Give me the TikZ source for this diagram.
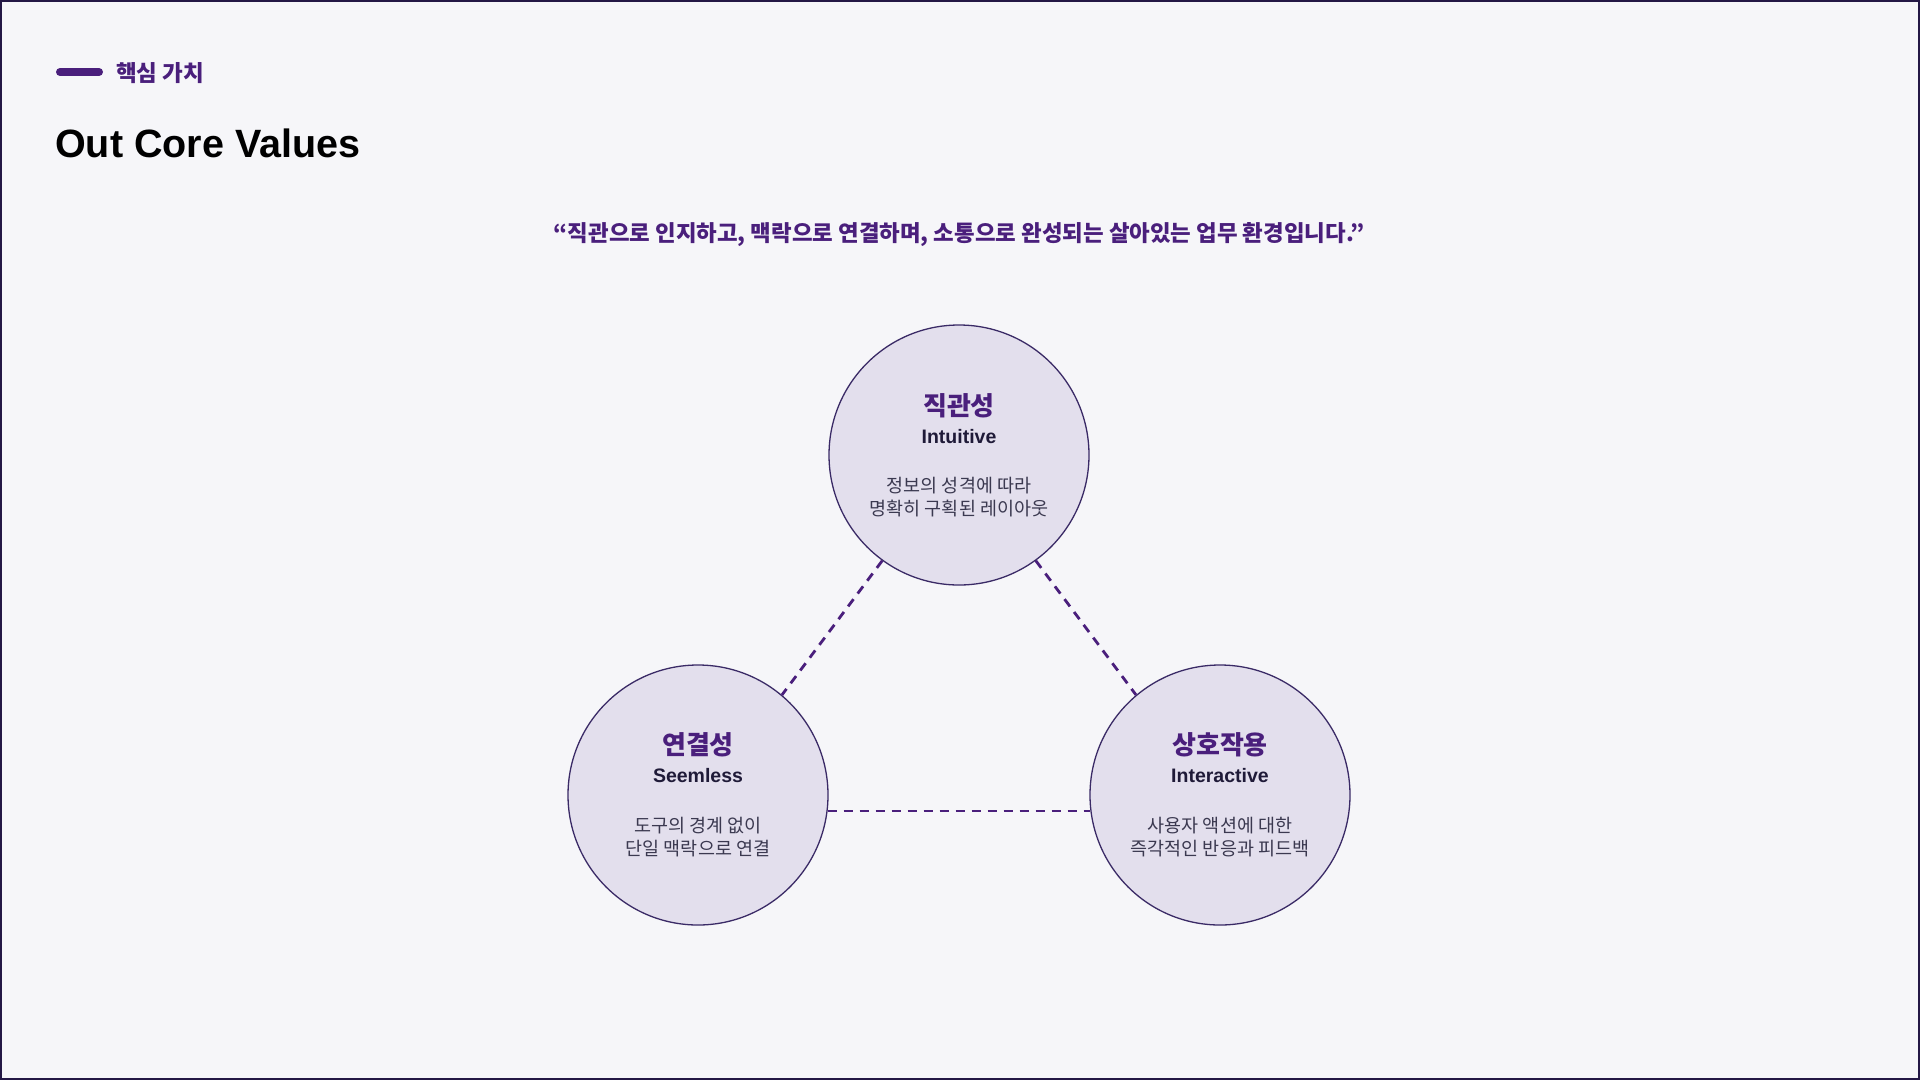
\documentclass[tikz,border=0pt]{standalone}
\usepackage{fontspec}
\setmainfont{Liberation Sans}
\newfontfamily\kr{Noto Sans CJK KR}
\usetikzlibrary{calc}
\definecolor{bgc}{HTML}{F6F6F9}
\definecolor{framec}{HTML}{241845}
\definecolor{accent}{HTML}{4A1F7C}
\definecolor{circfill}{HTML}{E3DFED}
\definecolor{circline}{HTML}{3A2A66}
\definecolor{engc}{HTML}{1F1A38}
\definecolor{descc}{HTML}{3B3950}
\tikzset{
  valcircle/.style={circle, fill=circfill, draw=circline, line width=1.3pt, minimum size=260pt, inner sep=0pt},
  valtitle/.style={font=\kr\bfseries\fontsize{26}{28}\selectfont, text=accent, inner sep=0pt},
  valeng/.style={font=\bfseries\fontsize{19.5}{21}\selectfont, text=engc, inner sep=0pt},
  valdesc/.style={font=\kr\fontsize{18.5}{23}\selectfont, text=descc, align=center, inner sep=0pt},
  linkline/.style={draw=accent, line width=2.8pt, dash pattern=on 9pt off 7pt}
}
\begin{document}
\begin{tikzpicture}[x=1pt,y=-1pt]
\useasboundingbox (0,0) rectangle (1920,1080);
\fill[bgc] (0,0) rectangle (1920,1080);
\draw[framec, line width=2pt] (1,1) rectangle (1919,1079);
% header
\coordinate (barL) at (60,72);
\coordinate (barR) at (99,72);
\draw[accent, line width=8pt, line cap=round] (barL) -- (barR);
\node[anchor=west, inner sep=0pt, font=\kr\bfseries\fontsize{22.5}{24}\selectfont, text=accent] (kicker) at (116,73) {핵심 가치};
\node[anchor=west, inner sep=0pt, font=\bfseries\fontsize{39.5}{42}\selectfont, text=black] (title) at (55,143) {Out Core Values};
\node[inner sep=0pt, font=\kr\bfseries\fontsize{22.4}{24}\selectfont, text=accent] (quote) at (959,235) {“직관으로 인지하고, 맥락으로 연결하며, 소통으로 완성되는 살아있는 업무 환경입니다.”};
% circles
\node[valcircle] (top) at (959,455) {};
\node[valcircle] (left) at (698,795) {};
\node[valcircle] (right) at (1220,795) {};
% connectors
\draw[linkline] (top.-126) -- (left.50);
\draw[linkline] (top.-54) -- (right.130);
\draw[linkline] (left.-7) -- (right.187);
% texts
\node[valtitle] (topT) at ($(top.center)+(0,-49)$) {직관성};
\node[valeng] (topE) at ($(top.center)+(0,-18)$) {Intuitive};
\node[valdesc] (topD) at ($(top.center)+(0,42)$) {정보의 성격에 따라\\명확히 구획된 레이아웃};
\node[valtitle] (leftT) at ($(left.center)+(0,-50)$) {연결성};
\node[valeng] (leftE) at ($(left.center)+(0,-19)$) {Seemless};
\node[valdesc] (leftD) at ($(left.center)+(0,42)$) {도구의 경계 없이\\단일 맥락으로 연결};
\node[valtitle] (rightT) at ($(right.center)+(0,-50)$) {상호작용};
\node[valeng] (rightE) at ($(right.center)+(0,-19)$) {Interactive};
\node[valdesc] (rightD) at ($(right.center)+(0,42)$) {사용자 액션에 대한\\즉각적인 반응과 피드백};
\end{tikzpicture}
\end{document}
